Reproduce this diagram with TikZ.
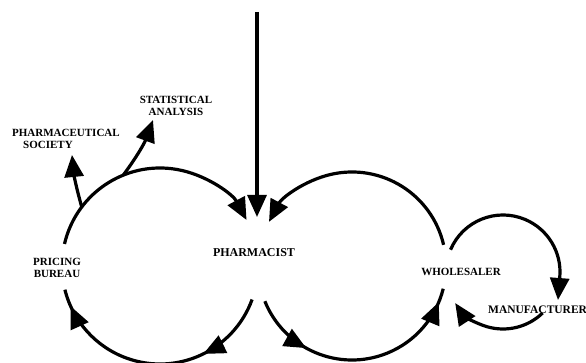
\documentclass[tikz,border=0pt]{standalone}
\usepackage{fontspec}
\setmainfont{Liberation Serif}
\usetikzlibrary{arrows.meta,decorations.markings}
\begin{document}
\begin{tikzpicture}[x=1pt,y=1pt,
  flow/.style={line width=3.2pt},
  tipend/.style={-{Triangle[length=22pt,width=19pt]}},
  twotips/.style 2 args={postaction={decorate},
    decoration={markings,
      mark=at position #1 with {\arrow{Triangle[length=22pt,width=19pt]}},
      mark=at position #2 with {\arrow{Triangle[length=22pt,width=19pt]}}}},
  lbl/.style={font=\bfseries\fontsize{11}{12}\selectfont, inner sep=0pt, align=center}
]
\useasboundingbox (0,0) rectangle (586,363);
% circle centres
\coordinate (L) at (160,97);
\coordinate (R) at (352,97);
\coordinate (S) at (503,91);
% labels
\node[lbl,font=\bfseries\fontsize{12}{13}\selectfont] (pharm) at (254,110) {PHARMACIST};
\node[lbl] (pricing) at (57,95) {PRICING\\BUREAU};
\node[lbl] (whole) at (461,91) {WHOLESALER};
\node[lbl,anchor=west,font=\bfseries\fontsize{11.5}{12}\selectfont] (manu) at (488,53) {MANUFACTURER};
\node[lbl] (stat) at (176,257) {STATISTICAL\\ANALYSIS};
\node[lbl,anchor=west,align=left] (psoc) at (12,224.5) {PHARMACEUTICAL\\\hspace*{11pt}SOCIETY};
% named points
\coordinate (topIn) at (257,351);
\coordinate (topTip) at (257,146);
\coordinate (ulStart) at ([shift={(L)}]167:98);
\coordinate (llStart) at ([shift={(L)}]-20:98);
\coordinate (urStart) at ([shift={(R)}]13:94);
\coordinate (lrStart) at ([shift={(R)}]202:94);
\coordinate (b1) at ([shift={(L)}]143:98);
\coordinate (b2) at ([shift={(L)}]112:98);
\coordinate (psTip) at (72,208);
\coordinate (saTip) at (153,243);
\coordinate (slStart) at ([shift={(S)}]157:57);
\coordinate (slTip) at (558,63);
\coordinate (sbStart) at ([shift={(S)}]-46:57);
% connectors
\draw[flow,tipend] (topIn) -- (topTip);
\draw[flow,tipend] (ulStart) arc[start angle=167,end angle=28,radius=98];
\draw[flow,tipend] (b1) to[bend left=5] (psTip);
\draw[flow,tipend] (b2) to[bend right=8] (saTip);
\draw[flow,twotips={0.30}{0.93}] (llStart) arc[start angle=-20,end angle=-166,radius=98];
\draw[flow,tipend] (urStart) arc[start angle=13,end angle=152,radius=94];
\draw[flow,twotips={0.27}{0.94}] (lrStart) arc[start angle=202,end angle=346,radius=94];
\draw[flow,tipend] (slStart) arc[start angle=157,end angle=-5,radius=57] -- (slTip);
\draw[flow,tipend] (sbStart) arc[start angle=-46,end angle=-147,radius=57];
\end{tikzpicture}
\end{document}
